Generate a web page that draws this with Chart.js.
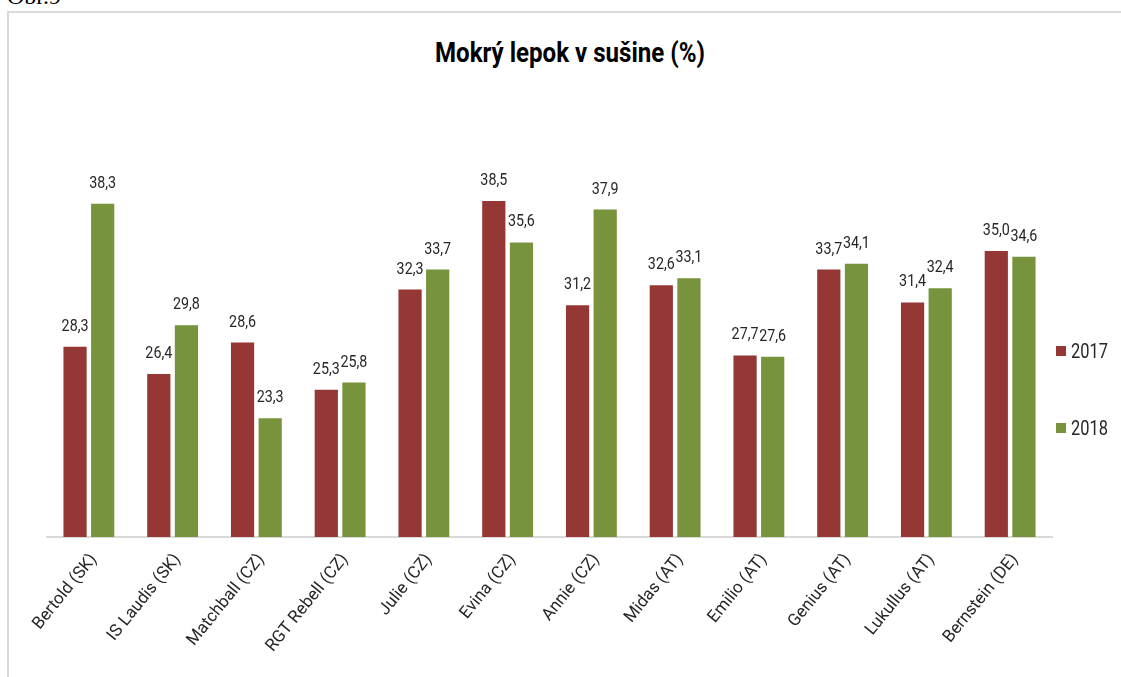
<!DOCTYPE html>
<html>
<head>
<meta charset="utf-8">
<script src="https://cdn.jsdelivr.net/npm/chart.js@4.4.1/dist/chart.umd.min.js"></script>
<style>
  html, body { margin: 0; padding: 0; background: #fff; }
  #wrap { position: relative; width: 1121px; height: 677px; overflow: hidden; }
  #obr { position: absolute; left: 7px; top: -18px; font: 24px/28px "Liberation Serif", "DejaVu Serif", serif; color: #000; }
  #frameTop { position: absolute; left: 7px; top: 11px; width: 1200px; height: 2px; background: #d9d9d9; }
  #frameLeft { position: absolute; left: 7px; top: 11px; width: 2px; height: 700px; background: #d9d9d9; }
  #title { position: absolute; left: 0; width: 1140px; top: 36px; text-align: center; font: bold 28px Roboto, "Open Sans", sans-serif; color: #000; transform: scaleX(0.86); transform-origin: 570px 0; }
  canvas { position: absolute; left: 0; top: 0; }
  .leg { position: absolute; left: 1056px; font: 20px Roboto, "Open Sans", sans-serif; color: #262626; display: flex; align-items: center; height: 24px; }
  .leg span.box { display: inline-block; width: 10px; height: 10px; margin-right: 5px; }
  .leg span.txt { display: inline-block; transform: scaleX(0.82); transform-origin: 0 50%; }
</style>
</head>
<body>
<div id="wrap">
  <div id="obr">Obr.9</div>
  <div id="frameTop"></div>
  <div id="frameLeft"></div>
  <div id="title">Mokrý lepok v sušine (%)</div>
  <canvas id="c" width="1121" height="677"></canvas>
  <div id="legend"></div>
</div>
<script>
const categories = ["Bertold (SK)", "IS Laudis (SK)", "Matchball (CZ)", "RGT Rebell (CZ)", "Julie (CZ)", "Evina (CZ)", "Annie (CZ)", "Midas (AT)", "Emilio (AT)", "Genius (AT)", "Lukullus (AT)", "Bernstein (DE)"];
const values2017 = [28.3, 26.4, 28.6, 25.3, 32.3, 38.5, 31.2, 32.6, 27.7, 33.7, 31.4, 35.0];
const values2018 = [38.3, 29.8, 23.3, 25.8, 33.7, 35.6, 37.9, 33.1, 27.6, 34.1, 32.4, 34.6];
const seriesLabels = ["2017", "2018"];
const seriesColors = ["#953735", "#77933C"];

const dataLabelPlugin = {
  id: 'dataLabels',
  afterDatasetsDraw(chart) {
    const ctx = chart.ctx;
    chart.data.datasets.forEach((ds, i) => {
      const meta = chart.getDatasetMeta(i);
      meta.data.forEach((bar, j) => {
        const txt = ds.data[j].toFixed(1).replace('.', ',');
        ctx.save();
        ctx.font = '17px Roboto, "Open Sans", sans-serif';
        ctx.fillStyle = '#262626';
        ctx.textAlign = 'center';
        ctx.textBaseline = 'alphabetic';
        ctx.translate(bar.x, bar.y - 16);
        ctx.scale(0.84, 1);
        ctx.fillText(txt, 0, 0);
        ctx.restore();
      });
    });
  }
};

new Chart(document.getElementById('c'), {
  type: 'bar',
  data: {
    labels: categories,
    datasets: [
      { label: seriesLabels[0], data: values2017, backgroundColor: seriesColors[0], categoryPercentage: 0.66, barPercentage: 0.84 },
      { label: seriesLabels[1], data: values2018, backgroundColor: seriesColors[1], categoryPercentage: 0.66, barPercentage: 0.84 }
    ]
  },
  options: {
    responsive: false,
    animation: false,
    devicePixelRatio: 1,
    layout: { padding: { left: 47, right: 69, top: 179.5, bottom: 0 } },
    plugins: {
      legend: { display: false },
      title: { display: false },
      tooltip: { enabled: false }
    },
    scales: {
      x: {
        grid: { display: false, drawTicks: false },
        border: { display: true, color: '#d9d9d9', width: 2 },
        ticks: {
          autoSkip: false,
          minRotation: 51,
          maxRotation: 51,
          padding: 13,
          labelOffset: 5,
          color: '#262626',
          font: { family: 'Roboto, "Open Sans", sans-serif', size: 17 }
        },
        afterFit(scale) { scale.height = 140; }
      },
      y: {
        display: false,
        min: 15,
        max: 40
      }
    }
  },
  plugins: [dataLabelPlugin]
});

const legend = document.getElementById('legend');
const legendTops = [339, 416];
seriesLabels.forEach((lab, i) => {
  const d = document.createElement('div');
  d.className = 'leg';
  d.style.top = legendTops[i] + 'px';
  d.innerHTML = '<span class="box" style="background:' + seriesColors[i] + '"></span><span class="txt">' + lab + '</span>';
  legend.appendChild(d);
});
</script>
</body>
</html>
